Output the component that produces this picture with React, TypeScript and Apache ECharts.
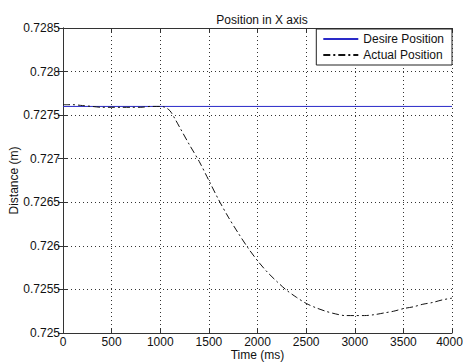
import React, { useEffect, useRef } from "react";
import * as echarts from "echarts";

const timeMs = [0, 100, 200, 300, 400, 500, 600, 700, 800, 900, 1000, 1050, 1100, 1150, 1200, 1300, 1400, 1500, 1600, 1700, 1800, 1900, 2000, 2100, 2200, 2300, 2400, 2500, 2600, 2700, 2800, 2900, 3000, 3100, 3200, 3300, 3400, 3500, 3600, 3700, 3800, 3900, 4000];
const actualPosition = [0.72762, 0.72762, 0.72761, 0.7276, 0.72759, 0.72759, 0.72759, 0.72759, 0.72759, 0.7276, 0.7276, 0.72759, 0.72755, 0.72746, 0.72736, 0.72716, 0.72697, 0.72675, 0.72653, 0.72633, 0.72615, 0.72598, 0.72583, 0.7257, 0.72559, 0.72549, 0.72541, 0.72534, 0.72529, 0.72525, 0.72522, 0.7252, 0.7252, 0.7252, 0.72521, 0.72523, 0.72525, 0.72528, 0.7253, 0.72533, 0.72535, 0.72538, 0.7254];
const desiredTime = [0, 4000];
const desiredPosition = [0.7276, 0.7276];

const FONT = "'Liberation Sans', Arial, sans-serif";

export default function App() {
  const ref = useRef<HTMLDivElement>(null);
  useEffect(() => {
    if (!ref.current) return;
    const chart = echarts.init(ref.current, undefined, { renderer: "svg" });
    const fmt = (v: number) => parseFloat(v.toFixed(4)).toString();
    chart.setOption({
      animation: false,
      backgroundColor: "#fff",
      textStyle: { fontFamily: FONT },
      title: {
        text: "Position in X axis",
        left: 257,
        textAlign: "center",
        top: 9,
        textStyle: { fontSize: 12, fontWeight: "normal", color: "#111", fontFamily: FONT },
      },
      grid: { left: 63, right: 11, top: 28, bottom: 31, show: false, containLabel: false, outerBoundsMode: "none" },
      legend: {
        data: ["Desire Position", "Actual Position"],
        orient: "vertical",
        right: 11,
        top: 29,
        itemWidth: 35,
        itemHeight: 14,
        itemGap: 4,
        padding: [4, 8, 4, 6],
        borderColor: "#222",
        borderWidth: 1,
        backgroundColor: "#fff",
        itemStyle: { opacity: 0 },
        textStyle: { fontSize: 12, color: "#111", fontFamily: FONT },
      },
      xAxis: [
        {
          type: "value",
          min: 0,
          max: 4000,
          interval: 500,
          name: "Time (ms)",
          nameLocation: "middle",
          nameGap: 16,
          nameMoveOverlap: false,
          nameTextStyle: { fontSize: 12, color: "#111", fontFamily: FONT },
          axisLine: { lineStyle: { color: "#333", width: 1 } },
          axisTick: { inside: true, length: 5, lineStyle: { color: "#333" } },
          axisLabel: {
            fontSize: 12,
            color: "#111",
            margin: 3,
            fontFamily: FONT,
            formatter: (v: number) => (v === 4000 ? "{r|" + v + "}" : String(v)),
            rich: { r: { fontSize: 12, color: "#111", fontFamily: FONT, padding: [0, 5, 0, 0] } },
          },
          splitLine: { show: true, lineStyle: { color: "#333", type: [1, 3], width: 1 } },
        },
        {
          type: "value",
          position: "top",
          min: 0,
          max: 4000,
          interval: 500,
          axisLine: { show: true, lineStyle: { color: "#333", width: 1 } },
          axisTick: { inside: true, length: 5, lineStyle: { color: "#333" } },
          axisLabel: { show: false },
          splitLine: { show: false },
        },
      ],
      yAxis: [
        {
          type: "value",
          min: 0.725,
          max: 0.7285,
          interval: 0.0005,
          name: "Distance (m)",
          nameLocation: "middle",
          nameGap: 43,
          nameMoveOverlap: false,
          nameTextStyle: { fontSize: 12, color: "#111", fontFamily: FONT },
          axisLine: { show: true, lineStyle: { color: "#333", width: 1 } },
          axisTick: { show: true, inside: true, length: 5, lineStyle: { color: "#333" } },
          axisLabel: { fontSize: 12, color: "#111", margin: 3, formatter: fmt, fontFamily: FONT },
          splitLine: { show: true, lineStyle: { color: "#333", type: [1, 3], width: 1 } },
        },
        {
          type: "value",
          position: "right",
          min: 0.725,
          max: 0.7285,
          interval: 0.0005,
          axisLine: { show: true, lineStyle: { color: "#333", width: 1 } },
          axisTick: { show: true, inside: true, length: 5, lineStyle: { color: "#333" } },
          axisLabel: { show: false },
          splitLine: { show: false },
        },
      ],
      series: [
        {
          name: "Desire Position",
          type: "line",
          xAxisIndex: 0,
          yAxisIndex: 0,
          symbol: "none",
          data: desiredTime.map((t, i) => [t, desiredPosition[i]]),
          lineStyle: { color: "#2a2ac8", width: 1 },
          itemStyle: { color: "#2a2ac8" },
        },
        {
          name: "Actual Position",
          type: "line",
          xAxisIndex: 0,
          yAxisIndex: 0,
          symbol: "none",
          smooth: 0.3,
          data: timeMs.map((t, i) => [t, actualPosition[i]]),
          lineStyle: { color: "#111", width: 1, type: [7, 3, 2, 3] },
          itemStyle: { color: "#111" },
        },
      ],
    });
    return () => chart.dispose();
  }, []);
  return <div ref={ref} style={{ width: 463, height: 364, position: "absolute", left: 0, top: 0 }} />;
}
